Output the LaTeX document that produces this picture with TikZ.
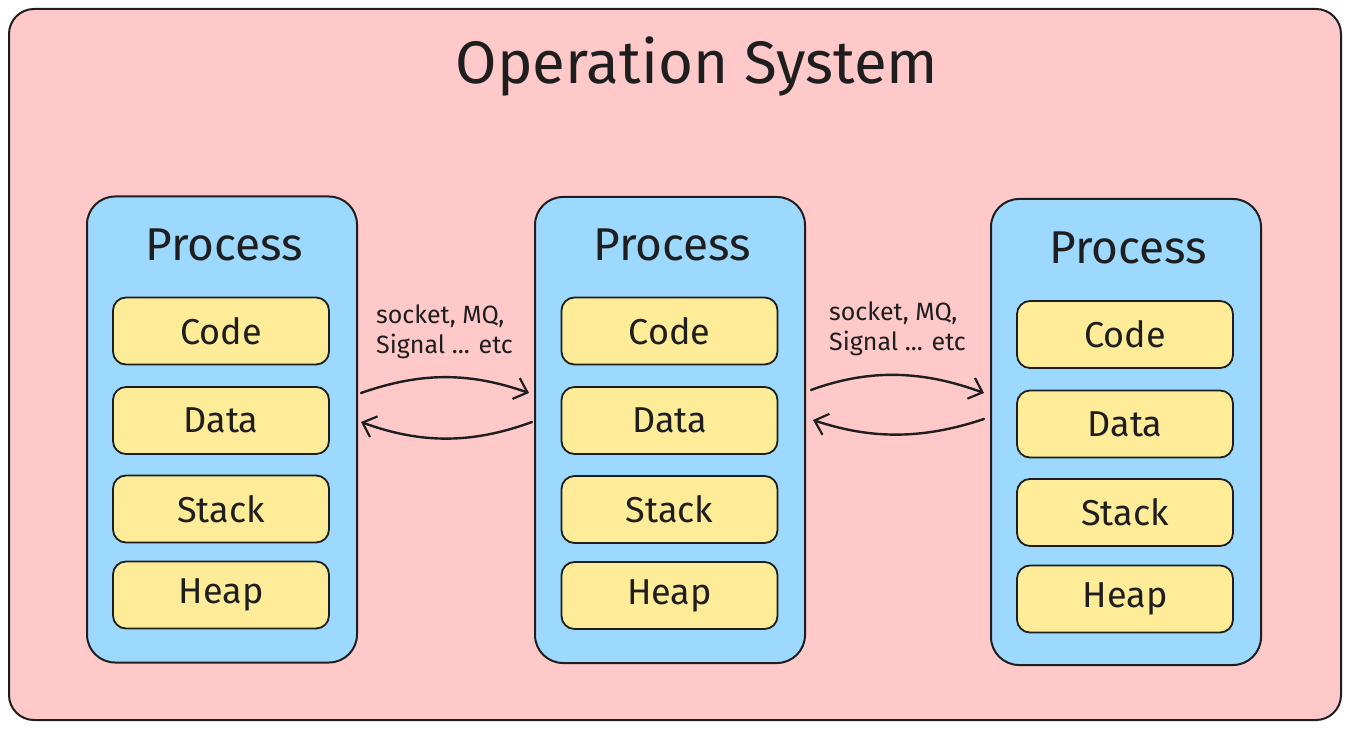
\documentclass[tikz,border=0pt]{standalone}
\usepackage{fontspec}
\setmainfont{Fira Sans}
\usetikzlibrary{arrows.meta,calc}
\definecolor{ink}{HTML}{1E1E1E}
\definecolor{ospink}{HTML}{FFC9C9}
\definecolor{procblue}{HTML}{9DD8FF}
\definecolor{segyellow}{HTML}{FFEC99}
\tikzset{
  osbox/.style={draw=ink,fill=ospink,line width=2pt,rounded corners=25pt},
  procbox/.style={draw=ink,fill=procblue,line width=2pt,rounded corners=28pt,
    minimum width=270pt,minimum height=466pt,inner sep=0pt},
  segbox/.style={draw=ink,fill=segyellow,line width=1.8pt,rounded corners=13pt,
    minimum width=216pt,minimum height=67pt,inner sep=0pt,text=ink,
    font=\fontsize{36}{40}\selectfont},
  proclabel/.style={text=ink,font=\fontsize{46}{52}\selectfont},
  titlelabel/.style={text=ink,font=\fontsize{60}{66}\selectfont},
  ipclabel/.style={text=ink,align=left,anchor=north west,inner sep=0pt,
    font=\fontsize{25}{30}\selectfont},
  ipcarrow/.style={draw=ink,line width=2.4pt,line cap=round,
    -{Straight Barb[length=12pt,width=22pt,line width=2.2pt]}}
}
\begin{document}
\begin{tikzpicture}[x=1pt,y=-1pt]
\useasboundingbox (0,0) rectangle (1351,730);
\draw[osbox] (9,9) rectangle (1341,720);
\node[titlelabel] (title) at (697,66) {Operation System};
% processes
\node[procbox] (p1) at (222,429.5) {};
\node[procbox] (p2) at (670,430) {};
\node[procbox] (p3) at (1126,432) {};
\node[proclabel] (p1l) at (224,245) {Process};
\node[proclabel] (p2l) at (672,245) {Process};
\node[proclabel] (p3l) at (1128,248) {Process};
% segments
\node[segbox] (c1) at (221,331) {Code};
\node[segbox] (d1) at (221,420.5) {Data};
\node[segbox] (s1) at (221,509) {Stack};
\node[segbox] (h1) at (221,595) {Heap};
\node[segbox] (c2) at (669.5,331) {Code};
\node[segbox] (d2) at (669.5,420.5) {Data};
\node[segbox] (s2) at (669.5,509.5) {Stack};
\node[segbox] (h2) at (669.5,595.5) {Heap};
\node[segbox] (c3) at (1125,334.5) {Code};
\node[segbox] (d3) at (1125,424) {Data};
\node[segbox] (s3) at (1125,512.5) {Stack};
\node[segbox] (h3) at (1125,599) {Heap};
% ipc labels
\node[ipclabel] (ipc1) at (376,305) {socket, MQ,\\Signal ... etc};
\node[ipclabel] (ipc2) at (829,302) {socket, MQ,\\Signal ... etc};
% arrows
\draw[ipcarrow] ($(p1.east)+(3,-36.5)$) .. controls +(60,-21) and +(-60,-21) .. ($(p2.west)+(-5,-37)$);
\draw[ipcarrow] ($(p2.west)+(-2,-8)$) .. controls +(-60,22) and +(60,22) .. ($(p1.east)+(3,-7.5)$);
\draw[ipcarrow] ($(p2.east)+(5,-40)$) .. controls +(60,-22) and +(-60,-22) .. ($(p3.west)+(-6,-39)$);
\draw[ipcarrow] ($(p3.west)+(-6,-13)$) .. controls +(-60,20) and +(60,20) .. ($(p2.east)+(7,-10)$);
\end{tikzpicture}
\end{document}
